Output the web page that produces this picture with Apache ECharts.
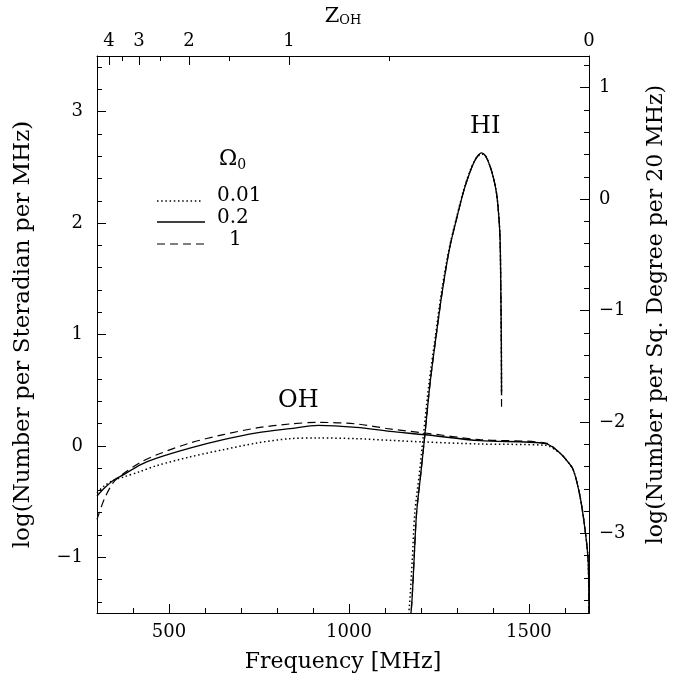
<!DOCTYPE html>
<html>
<head>
<meta charset="utf-8">
<script src="https://cdn.jsdelivr.net/npm/echarts@6/dist/echarts.min.js"></script>
<style>html,body{margin:0;padding:0;background:#fff}#c{width:689px;height:681px}</style>
</head>
<body>
<div id="c"></div>
<script>
// ---- data ----
const F0 = 1667;                 // OH rest frequency (MHz) -> z = 0
const xMin = 300, xMax = 1667;
const yMin = -1.5, yMax = 3.5;
const rightOffset = 2.215;       // log(sr->sq.deg) - log(20 MHz)

const freqTicks = [500, 1000, 1500];
const freqMinor = [400, 600, 700, 800, 900, 1100, 1200, 1300, 1400, 1600];
const zTicks = [4, 3, 2, 1, 0];
const zMinor = [3.5, 2.5, 1.5, 0.5];
const leftTicks = [-1, 0, 1, 2, 3];
const rightTicks = [-3, -2, -1, 0, 1];

// OH curves (Omega0 = 0.01 dotted, 0.2 solid, 1 dashed)
const ohFreq   = [300, 320, 345, 373, 420, 466, 558, 651, 744, 836, 915, 1021, 1114, 1211, 1364, 1547, 1586, 1605, 1623, 1642, 1656, 1665, 1667];
const ohSolid  = [-0.45, -0.38, -0.31, -0.26, -0.17, -0.11, -0.02, 0.056, 0.116, 0.155, 0.184, 0.166, 0.13, 0.10, 0.047, 0.020, -0.063, -0.13, -0.213, -0.452, -0.751, -1.05, -1.7];
const ohDashed = [-0.66, -0.48, -0.33, -0.25, -0.15, -0.08, 0.026, 0.101, 0.161, 0.197, 0.211, 0.197, 0.152, 0.116, 0.056, 0.026, -0.063, -0.13, -0.213, -0.452, -0.751, -1.05, -1.7];
const ohDotted = [-0.42, -0.36, -0.31, -0.28, -0.23, -0.177, -0.099, -0.034, 0.026, 0.065, 0.071, 0.065, 0.05, 0.035, 0.017, 0.005, -0.065, -0.13, -0.213, -0.452, -0.751, -1.05, -1.7];

// HI curves
const hiFreq      = [1165, 1174, 1181, 1188, 1200, 1211, 1225, 1242, 1260, 1280, 1300, 1320, 1340, 1355, 1369, 1380, 1392, 1402, 1410, 1416, 1420, 1422, 1423.5, 1424];
const hiSolid     = [-1.7, -1.44, -1.02, -0.60, -0.24, 0.10, 0.55, 0.98, 1.40, 1.78, 2.05, 2.30, 2.49, 2.59, 2.63, 2.60, 2.51, 2.40, 2.27, 2.08, 1.85, 1.40, 0.90, 0.47];
const hiDashed    = [-1.7, -1.44, -1.02, -0.60, -0.24, 0.10, 0.55, 0.98, 1.40, 1.78, 2.05, 2.30, 2.49, 2.59, 2.63, 2.60, 2.51, 2.40, 2.27, 2.08, 1.85, 1.40, 0.90, 0.31];
const hiDotFreq   = [1159, 1168, 1176, 1183, 1196, 1207, 1222, 1240, 1258, 1279, 1299, 1319, 1339, 1355, 1369, 1380, 1392, 1402, 1410, 1416, 1420, 1422, 1423.5, 1424];
const hiDotted    = [-1.7, -1.44, -1.02, -0.60, -0.24, 0.10, 0.55, 0.98, 1.40, 1.78, 2.05, 2.30, 2.49, 2.59, 2.62, 2.60, 2.51, 2.40, 2.27, 2.08, 1.85, 1.40, 0.90, 0.45];

const legendLabels = ['0.01', '0.2', '1'];

// ---- build ----
const zip = (xs, ys) => xs.map((x, i) => [x, ys[i]]);
const r1 = v => Math.round(v * 10) / 10;
const minorY = [];
for (let v = -1.4; v < 3.45; v += 0.2) { const rv = r1(v); if (Math.abs(rv - Math.round(rv)) > 1e-6) minorY.push(rv); }
const minorYR = [];
for (let v = -3.6; v < 1.25; v += 0.2) { const rv = r1(v); if (Math.abs(rv - Math.round(rv)) > 1e-6) minorYR.push(rv); }
const zPos = zTicks.map(z => F0 / (1 + z));
const zMinorPos = zMinor.map(z => F0 / (1 + z));

const FONT = 'DejaVu Serif';
const lblStyle = { fontFamily: FONT, fontSize: 18, color: '#000' };
const minus = v => String(v).replace('-', '\u2212');
const black = { color: '#000', width: 1 };
const DOT = [1.5, 2.7], DASH = [8, 5];

function xAx(pos, ticks, len, labels, extra) {
  return Object.assign({
    type: 'value', position: pos, min: xMin, max: xMax, gridIndex: 0,
    axisLine: { show: false, onZero: false, lineStyle: black },
    axisTick: { show: true, inside: true, length: len, customValues: ticks, lineStyle: black },
    axisLabel: labels ? Object.assign({ show: true, customValues: ticks }, lblStyle, labels) : { show: false },
    splitLine: { show: false }, minorTick: { show: false }
  }, extra || {});
}
function yAx(pos, mn, mx, ticks, len, labels, extra) {
  return Object.assign({
    type: 'value', position: pos, min: mn, max: mx, gridIndex: 0,
    axisLine: { show: false, onZero: false, lineStyle: black },
    axisTick: { show: true, inside: true, length: len, customValues: ticks, lineStyle: black },
    axisLabel: labels ? Object.assign({ show: true, customValues: ticks }, lblStyle, labels) : { show: false },
    splitLine: { show: false }, minorTick: { show: false }
  }, extra || {});
}

const option = {
  animation: false,
  backgroundColor: '#fff',
  grid: { left: 97, right: 100, top: 56, bottom: 68, containLabel: false },
  xAxis: [
    xAx('bottom', freqTicks, 9, { margin: 10, formatter: v => String(v) }, {
      axisLine: { show: true, onZero: false, lineStyle: black },
      name: 'Frequency [MHz]', nameLocation: 'middle', nameGap: 38,
      nameTextStyle: { fontFamily: FONT, fontSize: 22, color: '#000' }
    }),
    xAx('bottom', freqMinor, 5, null),
    xAx('top', zPos, 9, { margin: 6, formatter: v => String(Math.round(F0 / v - 1)) }, {
      axisLine: { show: true, onZero: false, lineStyle: black },
      name: 'Z{s|OH}', nameLocation: 'middle', nameGap: 28,
      nameTextStyle: { fontFamily: FONT, fontSize: 21, color: '#000',
        rich: { s: { fontFamily: FONT, fontSize: 13, verticalAlign: 'bottom', padding: [9, 0, 0, 0], color: '#000' } } }
    }),
    xAx('top', zMinorPos, 5, null)
  ],
  yAxis: [
    yAx('left', yMin, yMax, leftTicks, 9, { margin: 14, formatter: minus }, {
      axisLine: { show: true, onZero: false, lineStyle: black },
      name: 'log(Number per Steradian per MHz)', nameLocation: 'middle', nameGap: 62,
      nameTextStyle: { fontFamily: FONT, fontSize: 23, color: '#000' }
    }),
    yAx('left', yMin, yMax, minorY, 5, null),
    yAx('right', yMin - rightOffset, yMax - rightOffset, rightTicks, 9, { margin: 10, formatter: minus }, {
      axisLine: { show: true, onZero: false, lineStyle: black },
      name: 'log(Number per Sq. Degree per 20 MHz)', nameLocation: 'middle', nameGap: 56,
      nameTextStyle: { fontFamily: FONT, fontSize: 22, color: '#000', padding: [0, 0, 0, 40] }
    }),
    yAx('right', yMin - rightOffset, yMax - rightOffset, minorYR, 5, null)
  ],
  series: [
    { name: 'OH 0.01', type: 'line', data: zip(ohFreq, ohDotted) },
    { name: 'OH 0.2',  type: 'line', data: zip(ohFreq, ohSolid) },
    { name: 'OH 1',    type: 'line', data: zip(ohFreq, ohDashed) },
    { name: 'HI 0.01', type: 'line', data: zip(hiDotFreq, hiDotted) },
    { name: 'HI 0.2',  type: 'line', data: zip(hiFreq, hiSolid) },
    { name: 'HI 1',    type: 'line', data: zip(hiFreq, hiDashed) }
  ].map((s, i) => {
    const kind = i % 3;
    return Object.assign(s, {
      xAxisIndex: 0, yAxisIndex: 0, showSymbol: false, symbol: 'none', clip: true,
      smooth: 0.3,
      lineStyle: { color: '#000', width: kind === 0 ? 1.5 : (kind === 1 ? 1.3 : 1.2),
        type: kind === 0 ? DOT : (kind === 2 ? DASH : 'solid') },
      z: 3 - kind
    });
  }),
  graphic: [
    { type: 'text', left: 278, top: 389, style: { text: 'OH', fontFamily: FONT, fontSize: 24, fill: '#000' } },
    { type: 'text', left: 470, top: 115, style: { text: 'HI', fontFamily: FONT, fontSize: 24, fill: '#000' } },
    { type: 'text', left: 219, top: 148, style: { text: '\u03A9{s|0}', fontFamily: FONT, fontSize: 22, fill: '#000',
        rich: { s: { fontFamily: FONT, fontSize: 14, padding: [12, 0, 0, 0], fill: '#000' } } } },
    { type: 'line', shape: { x1: 157, y1: 201, x2: 203, y2: 201 }, style: { stroke: '#000', lineWidth: 1.5, lineDash: DOT } },
    { type: 'line', shape: { x1: 157, y1: 222, x2: 205, y2: 222 }, style: { stroke: '#000', lineWidth: 1.3 } },
    { type: 'line', shape: { x1: 157, y1: 244, x2: 205, y2: 244 }, style: { stroke: '#000', lineWidth: 1.2, lineDash: DASH } },
    { type: 'text', left: 217, top: 186, style: { text: legendLabels[0], fontFamily: FONT, fontSize: 20, fill: '#000' } },
    { type: 'text', left: 217, top: 208, style: { text: legendLabels[1], fontFamily: FONT, fontSize: 20, fill: '#000' } },
    { type: 'text', left: 229, top: 230, style: { text: legendLabels[2], fontFamily: FONT, fontSize: 20, fill: '#000' } }
  ]
};

const chart = echarts.init(document.getElementById('c'), null, { renderer: 'canvas' });
chart.setOption(option);
</script>
</body>
</html>
